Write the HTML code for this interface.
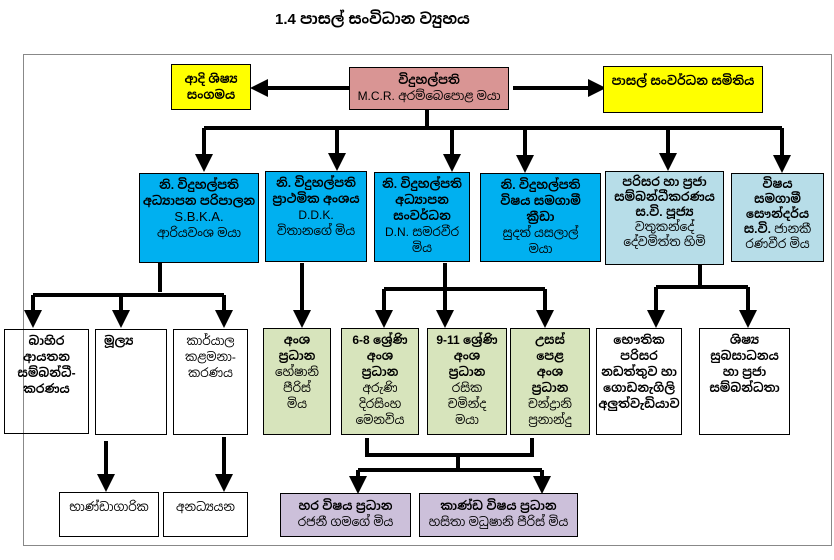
<!DOCTYPE html>
<html><head><meta charset="utf-8"><style>
body{margin:0;width:834px;height:560px;background:#fff;position:relative;overflow:hidden;font-family:"Liberation Sans","Noto Sans Sinhala","Iskoola Pota",sans-serif;}
.b{position:absolute;box-sizing:border-box;border:1.5px solid #000;text-align:center;font-size:12px;line-height:16px;color:#000;padding-top:3px;overflow:hidden}
.bold{font-weight:bold}
.y{background:#ffff00}.p{background:#d99594}.bl{background:#00b0f0}.lb{background:#b7dde8}.g{background:#d7e4bc}.v{background:#ccc0da}
#frame{position:absolute;left:23px;top:54px;width:809px;height:492px;border:1px solid #888;box-sizing:border-box}
</style></head><body>
<div style="position:absolute;left:275px;top:10px;font-size:15px;font-weight:bold">1.4 පාසල් සංවිධාන ව්‍යුහය</div>
<div id="frame"></div>
<svg width="834" height="560" style="position:absolute;left:0;top:0">
<defs><marker id="a" markerWidth="4.5" markerHeight="4.5" refX="2.5" refY="2.25" orient="auto" markerUnits="strokeWidth"><path d="M0,0L4.5,2.25L0,4.5z" fill="#000"/></marker></defs>
<g stroke="#000" stroke-width="4" fill="none">
<line x1="349" y1="88" x2="258" y2="88" marker-end="url(#a)"/>
<line x1="513" y1="88" x2="598" y2="88" marker-end="url(#a)"/>
<line x1="427" y1="110" x2="427" y2="128"/>
<line x1="204" y1="128" x2="782" y2="128"/>
<line x1="204" y1="128" x2="204" y2="164" marker-end="url(#a)"/>
<line x1="337" y1="128" x2="337" y2="163" marker-end="url(#a)"/>
<line x1="452" y1="128" x2="452" y2="164" marker-end="url(#a)"/>
<line x1="525" y1="128" x2="525" y2="165" marker-end="url(#a)"/>
<line x1="668" y1="128" x2="668" y2="163" marker-end="url(#a)"/>
<line x1="782" y1="128" x2="782" y2="165" marker-end="url(#a)"/>
<line x1="160" y1="263" x2="160" y2="292"/>
<line x1="33" y1="295" x2="224" y2="295"/>
<line x1="33" y1="295" x2="33" y2="320" marker-end="url(#a)"/>
<line x1="121" y1="295" x2="121" y2="320" marker-end="url(#a)"/>
<line x1="224" y1="295" x2="224" y2="320" marker-end="url(#a)"/>
<line x1="302" y1="263" x2="302" y2="320" marker-end="url(#a)"/>
<line x1="445" y1="263" x2="445" y2="320" marker-end="url(#a)"/>
<line x1="384" y1="289" x2="545" y2="289"/>
<line x1="384" y1="289" x2="384" y2="320" marker-end="url(#a)"/>
<line x1="545" y1="289" x2="545" y2="320" marker-end="url(#a)"/>
<line x1="700" y1="265" x2="700" y2="287"/>
<line x1="656" y1="287" x2="748" y2="287"/>
<line x1="656" y1="287" x2="656" y2="320" marker-end="url(#a)"/>
<line x1="748" y1="287" x2="748" y2="320" marker-end="url(#a)"/>
<line x1="106" y1="441" x2="106" y2="484" marker-end="url(#a)"/>
<line x1="224" y1="437" x2="224" y2="484" marker-end="url(#a)"/>
<path d="M367,438V455H532V438"/>
<line x1="458" y1="455" x2="458" y2="470"/>
<line x1="358" y1="470" x2="542" y2="470"/>
<line x1="358" y1="470" x2="358" y2="486" marker-end="url(#a)"/>
<line x1="542" y1="470" x2="542" y2="486" marker-end="url(#a)"/>
</g></svg>
<div class="b y bold" style="left:171px;top:64px;width:80px;height:46px;padding-top:6px">ආදි ශිෂ්‍ය<br>සංගමය</div>
<div class="b p" style="left:349px;top:67px;width:160px;height:43px;font-size:12px;padding-top:4px"><b>විදුහල්පති</b><br>M.C.R. අරම්බෙපොළ මයා</div>
<div class="b y bold" style="left:603px;top:66px;width:160px;height:47px;padding-top:6px">පාසල් සංවර්ධන සමිතිය</div>
<div class="b bl" style="left:139px;top:173px;width:120px;height:90px"><b>නි. විදුහල්පති<br>අධ්‍යාපන පරිපාලන</b><br><span style="font-size:13px">S.B.K.A.</span><br>ආරියවංශ මයා</div>
<div class="b bl" style="left:265px;top:171px;width:102px;height:91px"><b>නි. විදුහල්පති<br>ප්‍රාථමික අංශය</b><br>D.D.K.<br>විතානගේ මිය</div>
<div class="b bl" style="left:374px;top:172px;width:96px;height:90px"><b>නි. විදුහල්පති<br>අධ්‍යාපන<br>සංවර්ධන</b><br>D.N. සමරවීර<br>මිය</div>
<div class="b bl" style="left:480px;top:173px;width:121px;height:89px"><b>නි. විදුහල්පති<br>විෂය සමගාමී<br>ක්‍රීඩා</b><br>සුදත් යසලාල්<br>මයා</div>
<div class="b lb" style="left:605px;top:171px;width:119px;height:94px;line-height:15px"><b>පරිසර හා ප්‍රජා<br>සම්බන්ධීකරණය<br>ස.වි. පූජ්‍ය</b><br>වතුකන්දේ<br>දේවමිත්ත හිමි</div>
<div class="b lb" style="left:731px;top:173px;width:93px;height:89px;line-height:15px"><b>විෂය<br>සමගාමී<br>සෞන්දර්ය<br>ස.වි.</b> ජානකී<br>රණවීර මිය</div>
<div class="b bold" style="left:4px;top:329px;width:85px;height:105px">බාහිර<br>ආයතන<br>සම්බන්ධී-<br>කරණය</div>
<div class="b bold" style="left:95px;top:329px;width:72px;height:106px;text-align:left;padding-left:8px">මූල්‍ය</div>
<div class="b" style="left:173px;top:329px;width:75px;height:106px">කාර්යාල<br>කළමනා-<br>කරණය</div>
<div class="b g" style="left:263px;top:328px;width:68px;height:107px"><b>අංශ<br>ප්‍රධාන</b><br>හේෂානි<br>පීරිස්<br>මිය</div>
<div class="b g" style="left:341px;top:328px;width:78px;height:107px"><b>6-8 ශ්‍රේණි<br>අංශ<br>ප්‍රධාන</b><br>අරුණි<br>දිරසිංහ<br>මෙනවිය</div>
<div class="b g" style="left:427px;top:328px;width:80px;height:107px"><b>9-11 ශ්‍රේණි<br>අංශ<br>ප්‍රධාන</b><br>රසික<br>චමින්ද<br>මයා</div>
<div class="b g" style="left:510px;top:328px;width:80px;height:107px"><b>උසස්<br>පෙළ<br>අංශ<br>ප්‍රධාන</b><br>චන්ද්‍රානි<br>ප්‍රනාන්දු</div>
<div class="b bold" style="left:596px;top:328px;width:86px;height:107px">භෞතික<br>පරිසර<br>නඩත්තුව හා<br>ගොඩනැගිලි<br>අලුත්වැඩියාව</div>
<div class="b bold" style="left:699px;top:328px;width:91px;height:107px">ශිෂ්‍ය<br>සුබසාධනය<br>හා ප්‍රජා<br>සම්බන්ධතා</div>
<div class="b" style="left:59px;top:492px;width:100px;height:45px;padding-top:6px">භාණ්ඩාගාරික</div>
<div class="b" style="left:163px;top:492px;width:85px;height:45px;padding-top:6px">අනධ්‍යයන</div>
<div class="b v" style="left:280px;top:493px;width:131px;height:44px;padding-top:4px"><b>හර විෂය ප්‍රධාන</b><br>රජනී ගමගේ මිය</div>
<div class="b v" style="left:419px;top:493px;width:159px;height:44px;padding-top:4px"><b>කාණ්ඩ විෂය ප්‍රධාන</b><br>හසිතා මධුෂානි පීරිස් මිය</div>
</body></html>
